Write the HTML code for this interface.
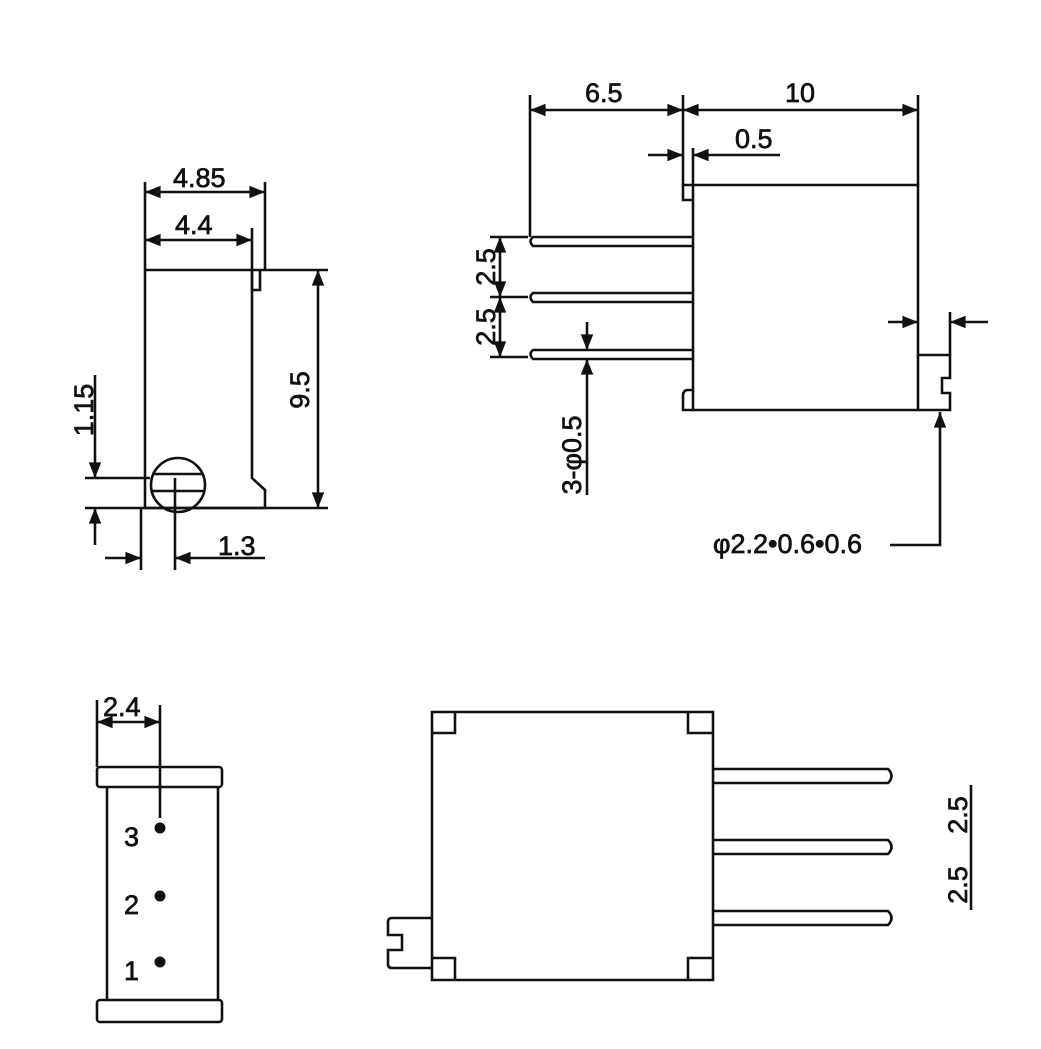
<!DOCTYPE html>
<html><head><style>body{margin:0;background:#fff}svg{display:block}text{font-family:"Liberation Sans",sans-serif;font-size:27px;fill:#111;stroke:#111;stroke-width:0.7}</style></head><body>
<svg width="1041" height="1049" viewBox="0 0 1041 1049" xmlns="http://www.w3.org/2000/svg">
<defs><marker id="a" viewBox="0 0 10 10" refX="10" refY="5" markerWidth="8" markerHeight="6" orient="auto-start-reverse"><path d="M0,1 L10,5 L0,9 z" fill="#111"/></marker></defs>
<g stroke="#111" stroke-width="2.6" fill="none">
<path d="M145,270 V508 H265 V490 L252,478 V290"/>
<path d="M252,270 V290 H260 V270"/>
<path d="M145,270 H328 M85,508 H328 M85,478 H150"/>
<path d="M145,182 V270 M265,182 V270 M252,228 V290"/>
<path d="M145,192 H265" marker-start="url(#a)" marker-end="url(#a)"/>
<path d="M145,240 H252" marker-start="url(#a)" marker-end="url(#a)"/>
<path d="M318,270 V508" marker-start="url(#a)" marker-end="url(#a)"/>
<circle cx="178" cy="485" r="27"/>
<path d="M152,474 H203 M152,491 H203 M175,478 V570 M141,508 V570"/>
<path d="M95,375 V478" marker-end="url(#a)"/><path d="M95,545 V508" marker-end="url(#a)"/>
<path d="M105,558 H141" marker-end="url(#a)"/><path d="M265,558 H175" marker-end="url(#a)"/>
<path d="M693,185 H918 V410 H693 Z"/>
<path d="M693,185 H683 V200 H693"/>
<path d="M693,390 H688 Q683,390 683,396 V410 H693"/>
<path d="M918,355 H950 V378 H942 V393 H950 V410 H918"/>
<path d="M693,237 H533 Q528,241 533,246 H693 M693,293 H533 Q528,297 533,302 H693 M693,350 H533 Q528,354 533,359 H693"/>
<path d="M530,95 V237 M683,95 V185 M918,95 V185 M693,148 V185"/>
<path d="M530,110 H683" marker-start="url(#a)" marker-end="url(#a)"/>
<path d="M683,110 H918" marker-start="url(#a)" marker-end="url(#a)"/>
<path d="M648,155 H683" marker-end="url(#a)"/><path d="M780,155 H693" marker-end="url(#a)"/>
<path d="M490,237 H528 M490,297 H528 M490,357 H528"/>
<path d="M500,237 V297" marker-start="url(#a)" marker-end="url(#a)"/>
<path d="M500,297 V357" marker-start="url(#a)" marker-end="url(#a)"/>
<path d="M587,322 V350" marker-end="url(#a)"/><path d="M587,495 V359" marker-end="url(#a)"/>
<path d="M888,322 H918" marker-end="url(#a)"/><path d="M988,322 H950" marker-end="url(#a)"/>
<path d="M950,312 V355"/>
<path d="M890,545 H940 V412" marker-end="url(#a)"/>
<rect x="97" y="767" width="125" height="20" rx="3"/>
<rect x="97" y="1000" width="125" height="22" rx="3"/>
<path d="M107,787 V1000 M218,787 V1000"/>
<path d="M97,700 V767 M160,705 V818"/>
<path d="M97,722 H160" marker-start="url(#a)" marker-end="url(#a)"/>
<path d="M432,712 H713 V980 H432 Z"/>
<path d="M432,733 H455 V712 M713,733 H688 V712 M432,958 H455 V980 M713,958 H688 V980"/>
<path d="M432,918 H392 Q388,918 388,922 V935 H402 V950 H388 V964 Q388,968 392,968 H432"/>
<path d="M713,769 H888 Q895,776 888,783 H713 M713,840 H888 Q895,847 888,854 H713 M713,911 H888 Q895,918 888,925 H713"/>
<path d="M971,785 V910"/>
</g>
<g fill="#111"><circle cx="160" cy="828" r="5.5"/><circle cx="160" cy="896" r="5.5"/><circle cx="160" cy="962" r="5.5"/></g>
<text x="173" y="187">4.85</text><text x="175" y="234">4.4</text>
<text transform="translate(309,390) rotate(-90)" text-anchor="middle">9.5</text>
<text transform="translate(93,410) rotate(-90)" text-anchor="middle">1.15</text>
<text x="218" y="555">1.3</text>
<text x="585" y="102">6.5</text><text x="785" y="102">10</text><text x="735" y="148">0.5</text>
<text transform="translate(495,267) rotate(-90)" text-anchor="middle">2.5</text>
<text transform="translate(495,327) rotate(-90)" text-anchor="middle">2.5</text>
<text transform="translate(581,455) rotate(-90)" text-anchor="middle">3-φ0.5</text>
<text x="713" y="553">φ2.2•0.6•0.6</text>
<text x="103" y="716">2.4</text>
<text x="124" y="846">3</text><text x="124" y="914">2</text><text x="124" y="980">1</text>
<text transform="translate(967,815) rotate(-90)" text-anchor="middle">2.5</text>
<text transform="translate(967,885) rotate(-90)" text-anchor="middle">2.5</text>
</svg>
</body></html>
